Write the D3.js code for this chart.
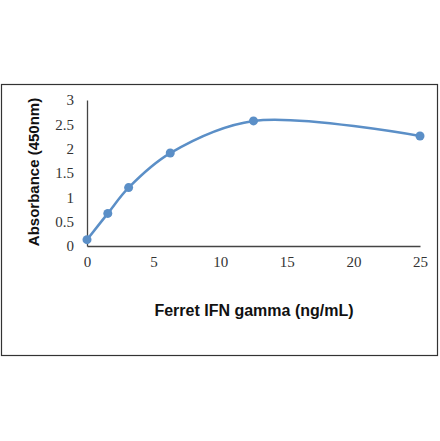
<!DOCTYPE html>
<html>
<head>
<meta charset="utf-8">
<script src="https://cdn.jsdelivr.net/npm/d3@7"></script>
<style>
  html, body { margin: 0; padding: 0; background: #fff; }
</style>
</head>
<body>
<div id="chart"></div>
<script>
// standard curve data
const concentrations = [0, 1.5625, 3.125, 6.25, 12.5, 25];
const absorbance = [0.13, 0.67, 1.2, 1.91, 2.57, 2.26];
const xTicks = [0, 5, 10, 15, 20, 25];
const yTicks = [0, 0.5, 1, 1.5, 2, 2.5, 3];
const xTitle = "Ferret IFN gamma (ng/mL)";
const yTitle = "Absorbance (450nm)";

const width = 440;
const height = 441;
const lineColor = "#5b8fc7";
const tickFont = "'Liberation Serif', 'DejaVu Serif', serif";
const titleFont = "'Liberation Sans', Arial, sans-serif";

const svg = d3.select("#chart")
  .append("svg")
  .attr("width", width)
  .attr("height", height);

// outer frame
svg.append("rect")
  .attr("x", 1.5)
  .attr("y", 84.5)
  .attr("width", 436)
  .attr("height", 271)
  .attr("fill", "none")
  .attr("stroke", "#333")
  .attr("stroke-width", 1.2);

const x = d3.scaleLinear().domain([0, 25]).range([87, 420]);
const y = d3.scaleLinear().domain([0, 3]).range([246, 100]);

// axes (no tick marks, only labels)
const xAxis = svg.append("g")
  .attr("transform", `translate(0,${y(0)})`)
  .call(d3.axisBottom(x).tickValues(xTicks).tickSize(0).tickPadding(10).tickFormat(d3.format("")));
xAxis.select(".domain").attr("stroke", "#444").attr("stroke-width", 1.3);
xAxis.selectAll("text")
  .attr("font-family", tickFont)
  .attr("font-size", "15px")
  .attr("fill", "#333");

const yAxis = svg.append("g")
  .attr("transform", `translate(${x(0)},0)`)
  .call(d3.axisLeft(y).tickValues(yTicks).tickSize(0).tickPadding(13).tickFormat(d3.format("")));
yAxis.select(".domain").attr("stroke", "#444").attr("stroke-width", 1.3);
yAxis.selectAll("text")
  .attr("font-family", tickFont)
  .attr("font-size", "15px")
  .attr("fill", "#333");

// axis titles
svg.append("text")
  .attr("x", 254)
  .attr("y", 316)
  .attr("text-anchor", "middle")
  .attr("font-family", titleFont)
  .attr("font-weight", "bold")
  .attr("font-size", "16px")
  .attr("fill", "#111")
  .text(xTitle);

svg.append("text")
  .attr("transform", "translate(39,172) rotate(-90)")
  .attr("text-anchor", "middle")
  .attr("font-family", titleFont)
  .attr("font-weight", "bold")
  .attr("font-size", "15px")
  .attr("fill", "#111")
  .text(yTitle);

// smoothed line
const points = concentrations.map((c, i) => [c, absorbance[i]]);
const line = d3.line()
  .x(d => x(d[0]))
  .y(d => y(d[1]))
  .curve(d3.curveCatmullRom.alpha(0.5));

svg.append("path")
  .datum(points)
  .attr("d", line)
  .attr("fill", "none")
  .attr("stroke", lineColor)
  .attr("stroke-width", 2.5);

svg.append("g")
  .selectAll("circle")
  .data(points)
  .enter()
  .append("circle")
  .attr("cx", d => x(d[0]))
  .attr("cy", d => y(d[1]))
  .attr("r", 4.5)
  .attr("fill", lineColor);
</script>
</body>
</html>
